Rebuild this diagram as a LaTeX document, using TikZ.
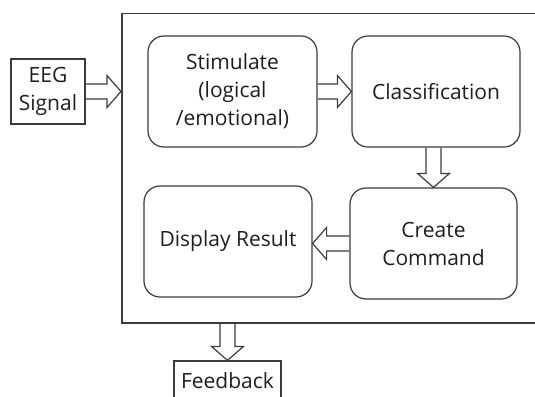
\documentclass[tikz,border=0pt]{standalone}
\usepackage{fontspec}
\setmainfont{Open Sans}
\usetikzlibrary{calc}
\definecolor{lc}{HTML}{3C3C3C}
\definecolor{tc}{HTML}{1E1E1E}
\tikzset{
  lbl/.style={font=\fontsize{21}{28}\selectfont, text=tc},
  plainbox/.style={lbl, draw=lc, line width=1.2pt, inner sep=0pt, align=center},
  roundbox/.style={plainbox, rounded corners=16pt},
  framebox/.style={draw=lc, line width=1.5pt, inner sep=0pt},
  barrow/.style={draw=lc, line width=1.2pt, line join=miter,
    to path={
      ($(\tikztotarget)!14pt!(\tikztostart)$) coordinate (barrowbase)
      ($(\tikztostart)!7.5pt!90:(\tikztotarget)$)
      -- ($(barrowbase)!7.5pt!90:(\tikztotarget)$)
      -- ($(barrowbase)!16pt!90:(\tikztotarget)$)
      -- (\tikztotarget)
      -- ($(barrowbase)!16pt!-90:(\tikztotarget)$)
      -- ($(barrowbase)!7.5pt!-90:(\tikztotarget)$)
      -- ($(\tikztostart)!7.5pt!-90:(\tikztotarget)$)
    }}
}
\begin{document}
\begin{tikzpicture}[x=1pt,y=-1pt]
\useasboundingbox (0,0) rectangle (535,396);
\clip (0,0) rectangle (535,396);

% outer frame (right edge lies outside the picture)
\node[framebox, anchor=north west, minimum width=439pt, minimum height=309pt] (frame) at (121,13) {};

% boxes
\node[plainbox, minimum width=74pt, minimum height=65pt] (eeg) at (48,91.5) {EEG\\Signal};
\node[roundbox, minimum width=169pt, minimum height=111pt] (stim) at (232.5,91.5) {Stimulate\\(logical\\/emotional)};
\node[roundbox, minimum width=168pt, minimum height=111pt] (cls) at (436,91.5) {Classification};
\node[roundbox, minimum width=168pt, minimum height=111pt] (disp) at (228,241.5) {Display Result};
\node[roundbox, minimum width=167pt, minimum height=111pt] (cmd) at (433.5,243.5) {Create\\Command};
\node[plainbox, minimum width=107pt, minimum height=40pt] (fb) at (227.5,381) {Feedback};

% arrow end points
\coordinate (ein) at (eeg.east -| frame.west);
\coordinate (sin) at (stim.east -| cls.west);
\coordinate (cout) at (cmd.north |- cls.south);
\coordinate (din) at (cmd.west -| disp.east);
\coordinate (fout) at (fb.north |- frame.south);

% block arrows
\draw[barrow] (eeg.east) to (ein);
\draw[barrow] (stim.east) to (sin);
\draw[barrow] (cout) to (cmd.north);
\draw[barrow] (cmd.west) to (din);
\draw[barrow] (fout) to (fb.north);
\end{tikzpicture}
\end{document}
